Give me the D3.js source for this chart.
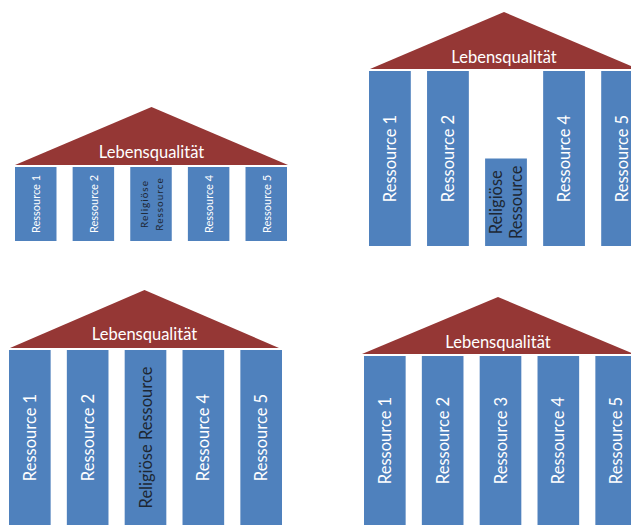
<!DOCTYPE html>
<html>
<head>
<meta charset="utf-8">
<script src="https://cdn.jsdelivr.net/npm/d3@7"></script>
<style>
  body { margin: 0; background: #fff; }
  svg { display: block; }
</style>
</head>
<body>
<div id="chart"></div>
<script>
// data
const roofLabel = "Lebensqualität";
const labelsReligious = ["Ressource 1", "Ressource 2", "Religiöse Ressource", "Ressource 4", "Ressource 5"];
const labelsPlain = ["Ressource 1", "Ressource 2", "Ressource 3", "Ressource 4", "Ressource 5"];
const heightsEqual = [1, 1, 1, 1, 1];
const heightsWeak = [1, 1, 0.5, 1, 1];
const religiousIndex = 2;

const width = 631, height = 525;
const blue = "#4f81bd", red = "#953735";

// layout of the four temples (position / size only)
const panels = [
  { labels: labelsReligious, heights: heightsEqual, x0: 15, x1: 287, roofL: 15, roofR: 288, apex: 107, base: 165, top: 167, bottom: 241, font: 11, relFont: 10, relSpacing: 1, lineH: 15, wrap: true, titleY: 152 },
  { labels: labelsReligious, heights: heightsWeak, x0: 369, x1: 643, roofL: 370, roofR: 638, apex: 12, base: 69, top: 71, bottom: 246, font: 16.5, relFont: 16.5, relSpacing: 0, lineH: 20, wrap: true, titleY: 57 },
  { labels: labelsReligious, heights: heightsEqual, x0: 9, x1: 282, roofL: 10, roofR: 279, apex: 290, base: 348, top: 350, bottom: 530, font: 16.5, relFont: 16.5, relSpacing: 0, lineH: 0, wrap: false, titleY: 334 },
  { labels: labelsPlain, heights: heightsEqual, x0: 364, x1: 637, roofL: 362, roofR: 634, apex: 297, base: 354, top: 356, bottom: 530, font: 16.5, relFont: 16.5, relSpacing: 0, lineH: 0, wrap: false, titleY: 342 }
];

const svg = d3.select("#chart").append("svg")
  .attr("width", width)
  .attr("height", height);

panels.forEach(p => {
  const g = svg.append("g");

  const x = d3.scaleBand()
    .domain(p.labels)
    .range([p.x0, p.x1])
    .paddingInner(0.28)
    .paddingOuter(0);

  const y = d3.scaleLinear()
    .domain([0, 1])
    .range([p.bottom, p.top]);

  // Roof
  const cx = (p.roofL + p.roofR) / 2;
  g.append("path")
    .attr("d", d3.line()([[p.roofL, p.base], [cx, p.apex], [p.roofR, p.base]]) + "Z")
    .attr("fill", red);

  g.append("text")
    .attr("x", cx)
    .attr("y", p.titleY)
    .attr("text-anchor", "middle")
    .attr("dominant-baseline", "central")
    .attr("fill", "#fff")
    .style("font-family", "Lato, 'Open Sans', sans-serif")
    .style("font-size", "16.5px")
    .text(roofLabel);

  // Columns
  const cols = g.selectAll(".col")
    .data(p.labels.map((l, i) => ({ label: l, h: p.heights[i], rel: i === religiousIndex && l.startsWith("Relig") })))
    .join("g")
    .attr("class", "col");

  cols.append("rect")
    .attr("x", d => x(d.label))
    .attr("y", d => y(d.h))
    .attr("width", x.bandwidth())
    .attr("height", d => y(0) - y(d.h))
    .attr("fill", blue);

  cols.each(function(d) {
    const cxCol = x(d.label) + x.bandwidth() / 2;
    const midY = (y(d.h) + Math.min(y(0), height)) / 2;
    const t = d3.select(this).append("text")
      .attr("transform", `translate(${cxCol},${midY}) rotate(-90)`)
      .attr("text-anchor", "middle")
      .attr("fill", d.rel ? "#1d2733" : "#fff")
      .style("font-family", "Lato, 'Open Sans', sans-serif")
      .style("font-size", (d.rel ? p.relFont : p.font) + "px")
      .style("letter-spacing", (d.rel ? p.relSpacing : 0) + "px");
    if (d.rel && p.wrap) {
      const parts = d.label.split(" ");
      parts.forEach((w, k) => {
        t.append("tspan")
          .attr("x", 0)
          .attr("y", (k - (parts.length - 1) / 2) * p.lineH)
          .attr("dominant-baseline", "central")
          .text(w);
      });
    } else {
      t.attr("dominant-baseline", "central").text(d.label);
    }
  });
});
</script>
</body>
</html>
